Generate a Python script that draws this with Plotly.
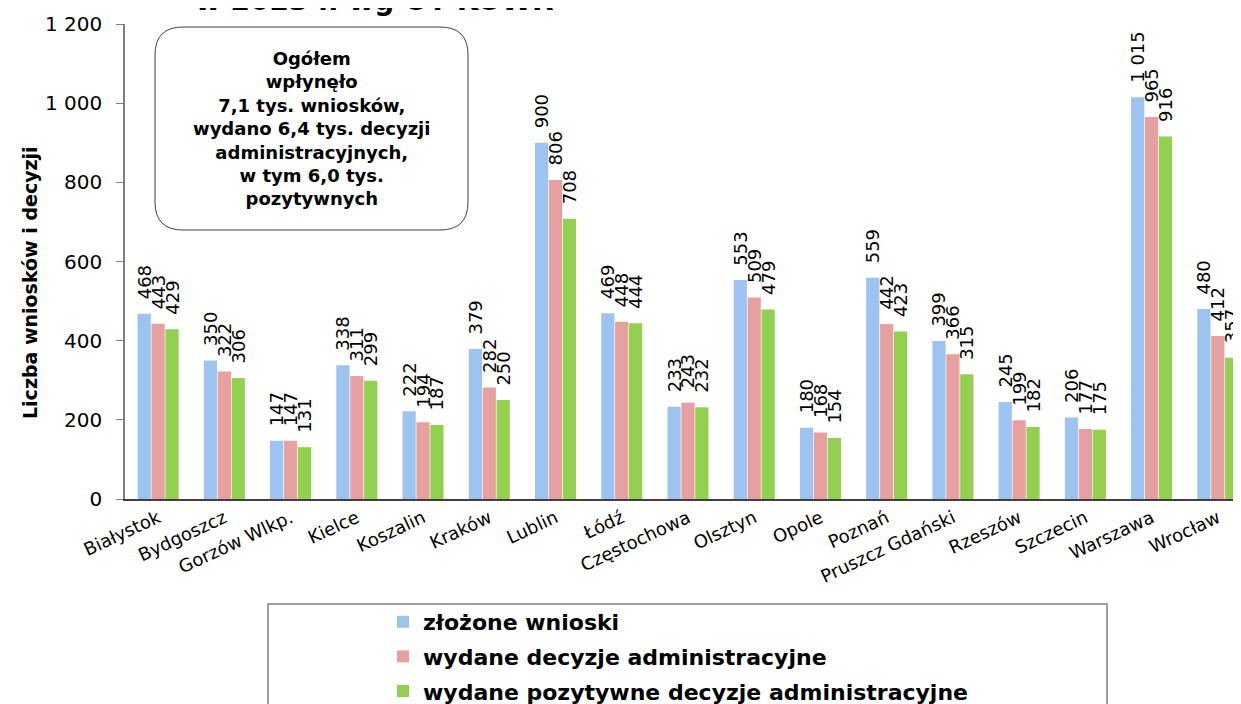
import plotly.graph_objects as go

categories = ["Białystok", "Bydgoszcz", "Gorzów Wlkp.", "Kielce", "Koszalin", "Kraków", "Lublin",
              "Łódź", "Częstochowa", "Olsztyn", "Opole", "Poznań", "Pruszcz Gdański", "Rzeszów",
              "Szczecin", "Warszawa", "Wrocław"]
zlozone = [468, 350, 147, 338, 222, 379, 900, 469, 233, 553, 180, 559, 399, 245, 206, 1015, 480]
wydane = [443, 322, 147, 311, 194, 282, 806, 448, 243, 509, 168, 442, 366, 199, 177, 965, 412]
pozytywne = [429, 306, 131, 299, 187, 250, 708, 444, 232, 479, 154, 423, 315, 182, 175, 916, 357]
series_names = ["złożone wnioski", "wydane decyzje administracyjne", "wydane pozytywne decyzje administracyjne"]
colors = ["#9DC3F0", "#E6A0A0", "#92D050"]
y_ticks = [0, 200, 400, 600, 800, 1000, 1200]

FONT = "DejaVu Sans, Verdana, sans-serif"
OFF = 8  # page body margin
W, H = 1241 - OFF, 704 - OFF
L, R, T = 125 - OFF, 0, 24 - OFF
B = H - (499 - OFF)
PW, PH = W - L - R, H - T - B


def px(x):
    # screen x -> paper
    return (x - OFF - L) / PW


def py(y):
    # screen y -> paper
    return (H - B - (y - OFF)) / PH


fig = go.Figure()
for name, vals, col in zip(series_names, [zlozone, wydane, pozytywne], colors):
    fig.add_trace(go.Bar(
        x=categories, y=vals, name=f"<b>{name}</b>", marker_color=col, marker_line_width=0,
        texttemplate="\u00a0\u00a0%{y:,}", textposition="outside", textangle=-90,
        textfont=dict(family=FONT, size=18, color="#000000"),
        constraintext="none", cliponaxis=False, legendgroup=name,
    ))

# rounded box
x0, x1, y0, y1 = px(155), px(468), py(230), py(27)
rx, ry = 28 / PW, 28 / PH
path = (f"M{x0+rx},{y1} L{x1-rx},{y1} Q{x1},{y1} {x1},{y1-ry} L{x1},{y0+ry} Q{x1},{y0} {x1-rx},{y0} "
        f"L{x0+rx},{y0} Q{x0},{y0} {x0},{y0+ry} L{x0},{y1-ry} Q{x0},{y1} {x0+rx},{y1} Z")
fig.add_shape(type="path", path=path, xref="paper", yref="paper",
              line=dict(color="#404040", width=1), fillcolor="white", layer="above")
fig.add_annotation(
    x=px(311), y=py(128), xref="paper", yref="paper", showarrow=False,
    xanchor="center", yanchor="middle",
    text="<b>Ogółem<br>wpłynęło<br>7,1 tys. wniosków,<br>wydano 6,4 tys. decyzji<br>"
         "administracyjnych,<br>w tym 6,0 tys.<br>pozytywnych</b>",
    font=dict(family=FONT, size=18, color="#000000"), align="center")

# title (cut off at top)
fig.add_annotation(x=px(374), y=py(19), xref="paper", yref="paper", showarrow=False,
                   xanchor="center", yanchor="bottom", text="<b>w 2023 r. wg OT KOWR</b>",
                   font=dict(family=FONT, size=28, color="#000000"))

# y axis title
fig.add_annotation(x=px(30), y=py(283), xref="paper", yref="paper", showarrow=False,
                   xanchor="center", yanchor="middle",
                   textangle=-90, text="<b>Liczba wniosków i decyzji</b>",
                   font=dict(family=FONT, size=19, color="#000000"))

# legend box
fig.add_shape(type="rect", xref="paper", yref="paper", x0=px(268), x1=px(1107), y0=py(760), y1=py(604),
              line=dict(color="#808080", width=1.5), fillcolor="rgba(0,0,0,0)")

fig.update_layout(
    width=W, height=H, margin=dict(l=L, r=R, t=T, b=B, autoexpand=False),
    paper_bgcolor="white", plot_bgcolor="white",
    separators=", ",
    barmode="group", bargap=0.37, bargroupgap=0.05,
    font=dict(family=FONT, color="#000000"),
    legend=dict(x=px(383), y=py(601), xanchor="left", yanchor="top", orientation="v",
                font=dict(family=FONT, size=22, color="#000000"), bgcolor="rgba(0,0,0,0)",
                tracegroupgap=3, traceorder="grouped"),
    xaxis=dict(range=[-0.5, 16.35], tickangle=-25, tickfont=dict(family=FONT, size=18),
               showline=True, linecolor="#404040", linewidth=1.5, ticks="", showgrid=False,
               automargin=False),
    yaxis=dict(range=[0, 1200], tickvals=y_ticks, tickformat=",d", tickfont=dict(family=FONT, size=20),
               showline=True, linecolor="#808080", linewidth=1.5, ticks="outside", ticklen=7,
               tickcolor="#808080", showgrid=False, zeroline=False, automargin=False,
               ticklabelstandoff=10),
)

fig.write_html("out.html")
